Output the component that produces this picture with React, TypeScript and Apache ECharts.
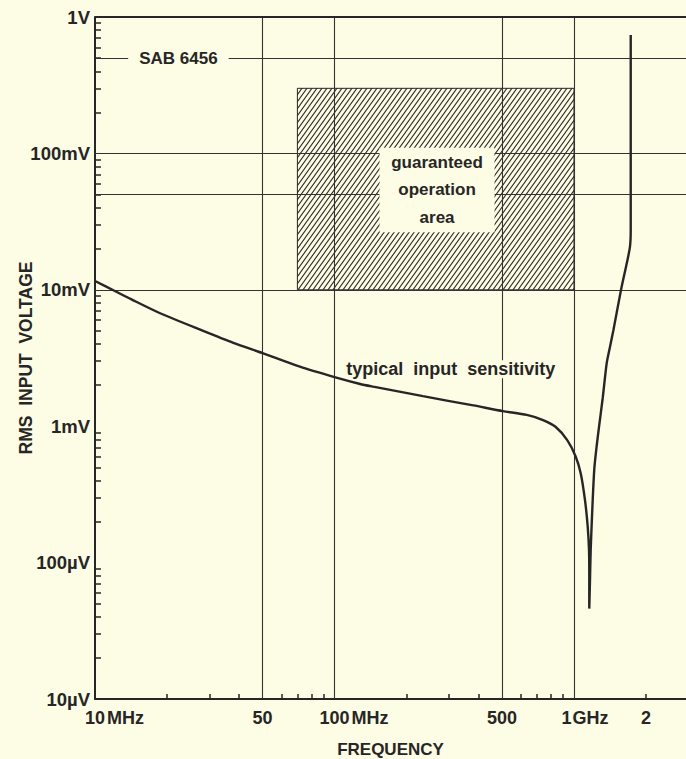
import React, { useEffect, useRef } from "react";
import * as echarts from "echarts";

// ---- data (frequency in MHz, voltage in V) ----
const curveFreqMHz = [
  10, 12.1, 14.2, 18.7, 28.3, 37.8, 50.4, 71.7, 100.9, 127.9, 145, 234, 380, 505, 635, 742, 837,
  937, 1016, 1067, 1111, 1141, 1155, 1158, 1158, 1166, 1174, 1197, 1216, 1242, 1272, 1318, 1369,
  1413, 1459, 1571, 1660, 1713, 1725, 1725,
];
const curveVoltV = [
  0.0116, 0.0098, 0.0085, 0.00673, 0.005, 0.00409, 0.00342, 0.00273, 0.00228, 0.00204, 0.00195,
  0.00166, 0.00142, 0.00129, 0.00121, 0.00111, 0.00099, 0.00079, 0.0006, 0.00045, 0.000288,
  0.000183, 0.000124, 0.0000835, 0.000046, 0.000074, 0.000124, 0.000288, 0.000491, 0.000704,
  0.00099, 0.00161, 0.00289, 0.00381, 0.00501, 0.00997, 0.0156, 0.0207, 0.0274, 0.738,
];

// guaranteed operation area: 70 MHz .. 1 GHz, 10 mV .. 300 mV
const areaFreqMHz = [70, 1000];
const areaVoltV = [0.3, 0.01];

// axis tick / label values
const xLabelValues = [10, 50, 100, 500, 1000, 2000];
const xLabelNumbers = ["10", "50", "100", "500", "1", "2"];
const xLabelUnits = ["MHz", "", "MHz", "", "GHz", ""];
const xMinorTicks = [20, 30, 40, 60, 70, 80, 90, 200, 300, 400, 600, 700, 800, 900, 2000];
const xGridValues = [50, 100, 500, 1000];

const yLabelValues = [1e-5, 1e-4, 1e-3, 1e-2, 1e-1, 1];
const yLabelTexts = ["10µV", "100µV", "1mV", "10mV", "100mV", "1V"];
const tickMultipliers = [2, 3, 4, 5, 6, 7, 8, 9];
const yDecades = [1e-5, 1e-4, 1e-3, 1e-2, 1e-1];
const yGridValues = [0.5, 0.1, 0.05, 0.01, 0.005, 0.001, 0.0005, 0.0001, 0.00005];
const yTop = 1;

// annotations
const sabLabel = { text: "SAB 6456", at: [22.3, 0.5] };
const areaLabel = { text: "guaranteed\noperation\narea", at: [268, 0.054] };
const curveLabel = { text: "typical  input  sensitivity", at: [306, 0.00261] };

const BG = "#fdfce4";
const INK = "#262626";
const FONT = "'Liberation Sans', Arial, sans-serif";

const hatchSvg =
  "<svg xmlns='http://www.w3.org/2000/svg' width='5' height='7'>" +
  "<path d='M-1,1.4 L1,-1.4 M0,7 L5,0 M4,8.4 L6,5.6' stroke='#2a2a2a' stroke-width='1.05' fill='none'/></svg>";
const hatchUrl = "data:image/svg+xml;charset=utf-8," + encodeURIComponent(hatchSvg);

export default function App() {
  const ref = useRef<HTMLDivElement>(null);
  useEffect(() => {
    document.body.style.margin = "0";
    const chart = echarts.init(ref.current!, null, { renderer: "svg" });
    const yMinorTicks = yDecades.flatMap((d) => tickMultipliers.map((m) => m * d));
    const curve = curveFreqMHz.map((f, i) => [f, curveVoltV[i]]);
    const textStyle = { fontFamily: FONT, fontWeight: "bold" as const, color: INK };

    const option: any = {
      animation: false,
      backgroundColor: BG,
      grid: { left: 95, right: 0, top: 17, bottom: 60, outerBoundsMode: "none" },
      xAxis: {
        type: "log",
        min: 10,
        max: 2935,
        name: "FREQUENCY",
        nameLocation: "middle",
        nameGap: 42,
        nameMoveOverlap: false,
        nameTextStyle: { ...textStyle, fontSize: 17 },
        axisLine: { show: true, lineStyle: { color: INK, width: 2 } },
        axisTick: { show: true, inside: true, length: 5, customValues: xMinorTicks, lineStyle: { color: INK, width: 1.5 } },
        splitLine: { show: false },
        minorTick: { show: false },
        axisLabel: {
          customValues: xLabelValues,
          margin: 10,
          hideOverlap: false,
          formatter: (v: number) => {
            const i = xLabelValues.findIndex((x) => Math.abs(Math.log10(v / x)) < 0.01);
            if (i < 0) return "";
            const n = xLabelNumbers[i];
            const u = xLabelUnits[i];
            if (u === "MHz") return `{padM|}{n|${n}}{uM|${u}}`;
            if (u === "GHz") return `{padG|}{n|${n}}{uG|${u}}`;
            return `{n|${n}}`;
          },
          rich: {
            n: { ...textStyle, fontSize: 18 },
            padM: { width: 39 },
            uM: { ...textStyle, fontSize: 18, width: 37, padding: [0, 0, 0, 2] },
            padG: { width: 22 },
            uG: { ...textStyle, fontSize: 18, width: 36, padding: [0, 0, 0, 1] },
          },
        },
      },
      yAxis: {
        type: "log",
        min: 1e-5,
        max: 1,
        name: "RMS  INPUT  VOLTAGE",
        nameLocation: "middle",
        nameGap: 60,
        nameMoveOverlap: false,
        nameTextStyle: { ...textStyle, fontSize: 17.5 },
        axisLine: { show: true, lineStyle: { color: INK, width: 2 } },
        axisTick: { show: true, inside: true, length: 6, customValues: yMinorTicks, lineStyle: { color: INK, width: 1.5 } },
        splitLine: { show: false },
        minorTick: { show: false },
        axisLabel: {
          customValues: yLabelValues,
          margin: 5,
          ...textStyle,
          fontSize: 18.5,
          formatter: (v: number) => {
            const i = yLabelValues.findIndex((y) => Math.abs(Math.log10(v / y)) < 0.01);
            return i < 0 ? "" : yLabelTexts[i];
          },
        },
      },
      series: [
        {
          type: "line",
          data: [],
          z: 1,
          silent: true,
          markArea: {
            silent: true,
            z: 1,
            itemStyle: {
              color: { image: hatchUrl, repeat: "repeat", imageWidth: 5, imageHeight: 7 },
              borderColor: INK,
              borderWidth: 1,
            },
            label: { show: false },
            data: [[{ coord: [areaFreqMHz[0], areaVoltV[0]] }, { coord: [areaFreqMHz[1], areaVoltV[1]] }]],
          },
          markLine: {
            silent: true,
            z: 2,
            symbol: "none",
            label: { show: false },
            lineStyle: { type: "solid", color: "#333", width: 1.1 },
            data: [
              ...xGridValues.map((x) => ({ xAxis: x })),
              ...yGridValues.map((y) => ({ yAxis: y })),
              { yAxis: yTop, lineStyle: { width: 2, color: INK } },
            ],
          },
        },
        {
          type: "scatter",
          z: 3,
          silent: true,
          symbolSize: 1,
          itemStyle: { color: "rgba(0,0,0,0)", opacity: 1 },
          data: [
            {
              value: sabLabel.at,
              label: { show: true, position: "inside", formatter: sabLabel.text, ...textStyle, fontSize: 17, backgroundColor: BG, padding: [3, 11] },
            },
            {
              value: areaLabel.at,
              label: {
                show: true,
                position: "inside",
                formatter: areaLabel.text,
                ...textStyle,
                fontSize: 17,
                lineHeight: 27.5,
                align: "center",
                width: 91,
                backgroundColor: BG,
                padding: [1, 12],
              },
            },
            {
              value: curveLabel.at,
              label: { show: true, position: "inside", formatter: curveLabel.text, ...textStyle, fontSize: 18, backgroundColor: BG, padding: [0, 3] },
            },
          ],
        },
        {
          type: "line",
          z: 4,
          silent: true,
          data: curve,
          showSymbol: false,
          symbol: "none",
          smooth: 0.25,
          lineStyle: { color: INK, width: 2.4 },
        },
      ],
    };
    chart.setOption(option);
    return () => chart.dispose();
  }, []);
  return <div ref={ref} style={{ width: 686, height: 759, background: BG }} />;
}
